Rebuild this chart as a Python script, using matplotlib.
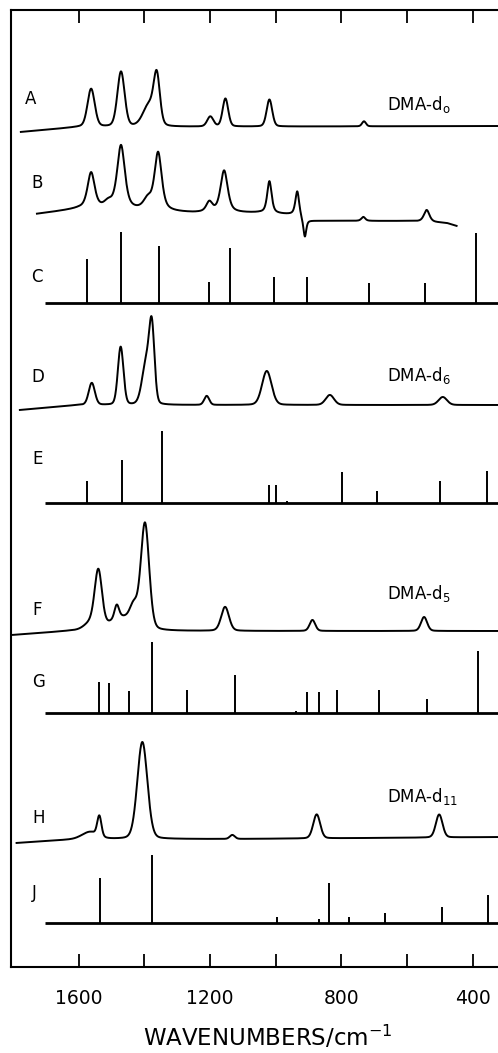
import numpy as np
import matplotlib
matplotlib.use("Agg")
import matplotlib.pyplot as plt

plt.rcParams['font.family'] = ['DejaVu Sans']
plt.rcParams['mathtext.default'] = 'regular'

# ---------------- data (wavenumbers in cm^-1, intensities in plot units) -------------
# Band spectra: peak positions, heights, full widths at half maximum, baseline points
A_pos = [1562, 1471, 1385, 1362, 1199, 1153, 1019, 731]
A_hgt = [38, 55, 22, 46, 10, 28, 27, 5]
A_fwhm = [26, 26, 44, 22, 22, 20, 20, 14]
A_base_x = [1776, 1600, 300]
A_base_y = [835, 840, 841]

B_pos = [1562, 1510, 1471, 1390, 1358, 1202, 1157, 1019, 934, 911, 733, 540]
B_hgt = [36, 6, 64, 10, 58, 10, 42, 32, 24, -17, 4, 12]
B_fwhm = [26, 30, 28, 30, 26, 22, 26, 16, 14, 10, 14, 20]
B_base_x = [1727, 1600, 1250, 1050, 935, 915, 600, 480, 449]
B_base_y = [753, 758, 754, 754, 752, 746, 746, 744, 741]

D_pos = [1560, 1472, 1394, 1377, 1210, 1027, 835, 491]
D_hgt = [22, 58, 42, 70, 9, 34, 10, 8]
D_fwhm = [22, 20, 30, 19, 18, 34, 30, 30]
D_base_x = [1779, 1602, 300]
D_base_y = [557, 562, 562]

F_pos = [1560, 1540, 1484, 1470, 1432, 1398, 1154, 888, 548]
F_hgt = [8, 55, 13, 13, 18, 106, 24, 11, 14]
F_fwhm = [50, 26, 16, 80, 28, 30, 28, 20, 22]
F_base_x = [1800, 1626, 300]
F_base_y = [332, 336, 336]

H_pos = [1565, 1537, 1406, 1132, 875, 502]
H_hgt = [7, 20, 97, 4, 24, 23]
H_fwhm = [55, 15, 36, 18, 25, 24]
H_base_x = [1789, 1600, 1130, 300]
H_base_y = [124, 128, 128, 130]

# Stick (calculated) spectra: positions and heights, baseline level
C_pos = [1576, 1472, 1355, 1204, 1140, 1006, 904, 715, 545, 390]
C_hgt = [44, 71, 57, 21, 55, 26, 26, 20, 20, 70]
C_base = 664

E_pos = [1575, 1469, 1345, 1020, 1000, 965, 798, 691, 499, 355]
E_hgt = [22, 43, 72, 18, 18, 2, 31, 12, 22, 32]
E_base = 464

G_pos = [1538, 1508, 1448, 1378, 1269, 1124, 939, 904, 868, 814, 686, 538, 383]
G_hgt = [31, 30, 22, 71, 23, 38, 2, 21, 21, 23, 23, 14, 62]
G_base = 254

J_pos = [1534, 1376, 997, 867, 837, 777, 666, 492, 352]
J_hgt = [45, 68, 6, 4, 40, 6, 10, 16, 28]
J_base = 44

stick_start = 1703

labels = ['A', 'B', 'C', 'D', 'E', 'F', 'G', 'H', 'J']
label_y = [863, 779, 685, 585, 503, 352, 280, 144, 69]
label_x = [1763, 1745, 1745, 1745, 1742, 1742, 1742, 1742, 1742]

dma_text = ['DMA-d$_{o}$', 'DMA-d$_{6}$', 'DMA-d$_{5}$', 'DMA-d$_{11}$']
dma_y = [857, 586, 368, 165]
dma_x = 662

tick_major = [1600, 1400, 1200, 1000, 800, 600, 400]
tick_labels = ['1600', '', '1200', '', '800', '', '400']

# ---------------- figure ----------------
W, H = 498, 1053
fig = plt.figure(figsize=(W / 100, H / 100), dpi=100)
left_px, right_px, top_px, bot_px = 11, 505.5, 10, 967
ax = fig.add_axes([left_px / W, (H - bot_px) / H,
                   (right_px - left_px) / W, (bot_px - top_px) / H])
ax.set_xlim(1806, 300)
ax.set_ylim(0, bot_px - top_px)

lw = 1.4


def band(x, p, h, fwhm, eta):
    g = np.exp(-4 * np.log(2) * ((x - p) / fwhm) ** 2)
    lo = 1 / (1 + 4 * ((x - p) / fwhm) ** 2)
    return h * (eta * lo + (1 - eta) * g)


def broad(pos, hgt, fw, bx, by, eta):
    x = np.linspace(bx[0], bx[-1], 4000)
    y = np.interp(-x, -np.array(bx, float), np.array(by, float))
    for p, h, w in zip(pos, hgt, fw):
        y = y + band(x, p, h, w, eta)
    ax.plot(x, y, color='black', lw=lw, solid_joinstyle='round')


def sticks(pos, hgt, base):
    ax.plot([stick_start, 300], [base, base], color='black', lw=2.0,
            solid_capstyle='butt')
    ax.vlines(pos, base, np.array(hgt) + base, color='black', lw=1.4)


broad(A_pos, A_hgt, A_fwhm, A_base_x, A_base_y, 0.2)
broad(B_pos, B_hgt, B_fwhm, B_base_x, B_base_y, 0.6)
sticks(C_pos, C_hgt, C_base)
broad(D_pos, D_hgt, D_fwhm, D_base_x, D_base_y, 0.15)
sticks(E_pos, E_hgt, E_base)
broad(F_pos, F_hgt, F_fwhm, F_base_x, F_base_y, 0.2)
sticks(G_pos, G_hgt, G_base)
broad(H_pos, H_hgt, H_fwhm, H_base_x, H_base_y, 0.15)
sticks(J_pos, J_hgt, J_base)

for t, x, y in zip(labels, label_x, label_y):
    ax.text(x, y, t, fontsize=12, ha='left', va='baseline')
for t, y in zip(dma_text, dma_y):
    ax.text(dma_x, y, t, fontsize=12, ha='left', va='baseline')

ax.set_yticks([])
ax.set_xticks(tick_major)
ax.set_xticklabels(tick_labels, fontsize=13.5)
ax.tick_params(axis='x', which='major', direction='in', length=9.5, width=1.3,
               top=True, bottom=True, pad=16)
for s in ax.spines.values():
    s.set_linewidth(1.5)

ax.set_xlabel('WAVENUMBERS/cm$^{-1}$', fontsize=16.5)
ax.xaxis.set_label_coords((267.5 - left_px) / (right_px - left_px), -0.059)

fig.savefig('out.png', dpi=100)
